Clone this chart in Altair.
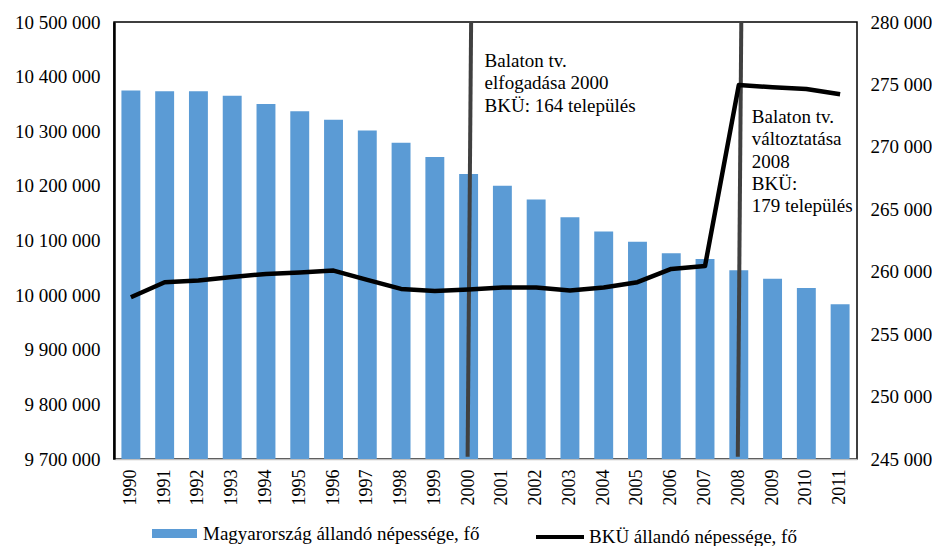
import altair as alt
import pandas as pd

years = list(range(1990, 2012))
hu_pop = [10374800, 10373200, 10373400, 10365000, 10350000, 10336700, 10321200,
          10301200, 10279000, 10253000, 10221600, 10200300, 10174900, 10142400,
          10116700, 10097500, 10076600, 10066200, 10045400, 10030000, 10013000, 9983500]
bku_pop = [257960, 259160, 259290, 259580, 259820, 259930, 260090, 259340,
           258620, 258460, 258570, 258730, 258730, 258490, 258730, 259160,
           260220, 260460, 274950, 274770, 274640, 274210]

bar_label = "Magyarország állandó népessége, fő"
line_label = "BKÜ állandó népessége, fő"

event_years = [2000, 2008]
event_texts = ["Balaton tv.\nelfogadása 2000\nBKÜ: 164 település",
               "Balaton tv.\nváltoztatása\n2008\nBKÜ:\n179 település"]

left_ticks = list(range(9700000, 10500001, 100000))
right_ticks = list(range(245000, 280001, 5000))

df = pd.DataFrame({"year": years, "hu": hu_pop, "bku": bku_pop,
                   "s1": bar_label, "s2": line_label})
ev = pd.DataFrame({"year": event_years, "text": event_texts,
                   "top": 10500000, "bottom": 9704000})

FONT = "Liberation Serif"
FS = 19
space_fmt = "replace(format(datum.value, ','), /,/g, ' ')"

xenc = alt.X("year:O", title=None,
             scale=alt.Scale(paddingInner=0.44, paddingOuter=0.22),
             axis=alt.Axis(labelAngle=-90, labelPadding=10, domainColor="#BFBFBF",
                           domainWidth=1.5, ticks=False, labelFont=FONT,
                           labelFontSize=18, labelColor="black"))

yleft = alt.Y("hu:Q", title=None,
              scale=alt.Scale(domain=[9700000, 10500000], nice=False, zero=False),
              axis=alt.Axis(values=left_ticks, labelExpr=space_fmt, orient="left",
                            domainColor="black", domainWidth=2.5, labelPadding=14,
                            ticks=False, grid=False, labelFont=FONT,
                            labelFontSize=FS, labelColor="black"))

bars = alt.Chart(df).mark_bar(color="#5B9BD5").encode(
    x=xenc,
    y=yleft,
    y2=alt.datum(9700000),
    color=alt.Color("s1:N", scale=alt.Scale(domain=[bar_label], range=["#5B9BD5"]),
                    legend=alt.Legend(title=None, orient="none", legendX=38, legendY=489,
                                      symbolType="M-1,-0.2H1V0.2H-1Z", symbolSize=2025,
                                      symbolStrokeWidth=0, labelOffset=6, labelLimit=0,
                                      labelFont=FONT, labelFontSize=FS, labelColor="black")),
)

rules = alt.Chart(ev).mark_rule(color="#404040", strokeWidth=4, xOffset=2.5, x2Offset=-1).encode(
    x="year:O", x2="year:O",
    y=alt.Y("top:Q"), y2="bottom:Q"
)

txt1 = alt.Chart(ev).transform_filter(alt.datum.year == event_years[0]).mark_text(
    align="left", baseline="alphabetic", font=FONT, fontSize=FS,
    lineHeight=22.5, lineBreak="\n", dx=16, color="black").encode(
    x="year:O", y=alt.value(44.7), text="text:N")
txt2 = alt.Chart(ev).transform_filter(alt.datum.year == event_years[1]).mark_text(
    align="left", baseline="alphabetic", font=FONT, fontSize=FS,
    lineHeight=22.2, lineBreak="\n", dx=13, color="black").encode(
    x="year:O", y=alt.value(101.3), text="text:N")

left_layer = alt.layer(bars, rules, txt1, txt2)

line = alt.Chart(df).mark_line(strokeWidth=4.5, strokeJoin="round").encode(
    x="year:O",
    y=alt.Y("bku:Q", title=None,
            scale=alt.Scale(domain=[245000, 280000], nice=False, zero=False),
            axis=alt.Axis(values=right_ticks, labelExpr=space_fmt, orient="right",
                          domain=False, ticks=False, labelPadding=13, grid=False,
                          labelFont=FONT, labelFontSize=FS, labelColor="black")),
    stroke=alt.Stroke("s2:N", scale=alt.Scale(domain=[line_label], range=["black"]),
                      legend=alt.Legend(title=None, orient="none", legendX=420, legendY=489,
                                        symbolType="stroke", symbolSize=2304,
                                        symbolStrokeWidth=4, labelOffset=3, labelLimit=0,
                                        labelFont=FONT, labelFontSize=FS, labelColor="black")),
)

chart = alt.layer(left_layer, line).resolve_scale(y="independent").properties(
    width=743, height=437,
    autosize=alt.AutoSizeParams(type="none"),
    padding={"left": 106, "top": 14, "right": 75, "bottom": 87},
).configure_view(stroke="black", strokeWidth=1.5).configure_axis(
    labelFont=FONT, labelFontSize=FS, labelColor="black", grid=False
)

chart.save("out.html", embed_options={"renderer": "svg", "actions": False})
